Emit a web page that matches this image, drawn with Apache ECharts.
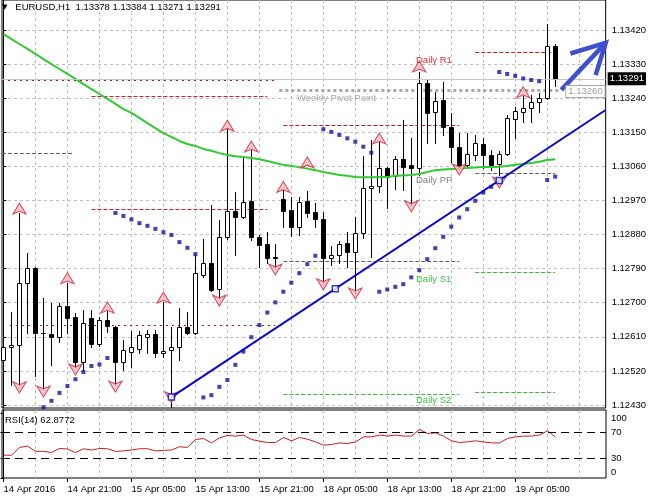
<!DOCTYPE html>
<html><head><meta charset="utf-8">
<script src="https://cdn.jsdelivr.net/npm/echarts@6/dist/echarts.min.js"></script>
<style>html,body{margin:0;padding:0;background:#fff}#c{width:649px;height:500px}</style>
</head><body><div id="c"></div>
<script>
// ---------------- data ----------------
const symbolName = 'EURUSD,H1';
const xTickBars = [0, 8, 16, 24, 32, 40, 48, 56, 64];
const xTickLabels = ['14 Apr 2016', '14 Apr 21:00', '15 Apr 05:00', '15 Apr 13:00', '15 Apr 21:00',
  '18 Apr 05:00', '18 Apr 13:00', '18 Apr 21:00', '19 Apr 05:00'];
const xGridBars = [4, 8, 12, 16, 20, 24, 28, 32, 36, 40, 44, 48, 52, 56, 60, 64, 68, 72];
const priceTicks = [1.12430, 1.12520, 1.12610, 1.12700, 1.12790, 1.12880, 1.12970, 1.13060, 1.13150, 1.13240, 1.13330, 1.13420];
const rsiTicks = [0, 30, 70, 100];
const rsiLevels = [70, 30];

const opens = [1.12549,1.12582,1.12588,1.12751,1.12791,1.12619,1.12617,1.12609,1.12691,1.12662,
1.12544,1.12659,1.12591,1.12654,1.12637,1.12544,1.12571,1.12579,1.12610,1.12617,
1.12566,1.12575,1.12582,1.12637,1.12619,1.12774,1.12806,1.12735,1.12874,1.12943,
1.12926,1.12969,1.12874,1.12855,1.12822,1.12974,1.12945,1.12901,1.12969,1.12940,
1.12920,1.12817,1.12826,1.12857,1.12835,1.12883,1.13002,1.13008,1.13055,1.13035,
1.13079,1.13064,1.13055,1.13279,1.13204,1.13235,1.13165,1.13110,1.13064,1.13090,
1.13119,1.13090,1.13065,1.13092,1.13185,1.13204,1.13215,1.13230,1.13240,1.13378];
const highs = [1.12637,1.12676,1.12936,1.12831,1.12795,1.12712,1.12699,1.12700,1.12751,1.12674,
1.12681,1.12681,1.12663,1.12679,1.12639,1.12602,1.12626,1.12626,1.12628,1.12628,
1.12703,1.12637,1.12685,1.12676,1.12826,1.12868,1.12959,1.12918,1.13158,1.12993,
1.13081,1.13103,1.12879,1.12888,1.12855,1.12998,1.12978,1.12978,1.12996,1.12963,
1.12940,1.12850,1.12864,1.12888,1.12927,1.13087,1.13130,1.13125,1.13059,1.13087,
1.13182,1.13134,1.13310,1.13288,1.13257,1.13284,1.13200,1.13147,1.13149,1.13143,
1.13134,1.13103,1.13101,1.13196,1.13218,1.13246,1.13248,1.13254,1.13436,1.13384];
const lows = [1.12524,1.12483,1.12483,1.12619,1.12507,1.12471,1.12536,1.12597,1.12619,1.12531,
1.12522,1.12584,1.12586,1.12624,1.12483,1.12522,1.12531,1.12566,1.12566,1.12558,
1.12556,1.12426,1.12549,1.12617,1.12617,1.12768,1.12732,1.12712,1.12868,1.12826,
1.12924,1.12866,1.12795,1.12804,1.12791,1.12899,1.12877,1.12879,1.12927,1.12899,
1.12751,1.12800,1.12804,1.12795,1.12725,1.12870,1.12822,1.12993,1.12949,1.12999,
1.12998,1.12958,1.13037,1.13121,1.13121,1.13143,1.13072,1.13055,1.13061,1.13077,
1.13055,1.13050,1.13037,1.13090,1.13134,1.13178,1.13178,1.13204,1.13238,1.13271];
const closes = [1.12582,1.12588,1.12751,1.12791,1.12619,1.12621,1.12609,1.12691,1.12659,1.12544,
1.12646,1.12591,1.12654,1.12639,1.12544,1.12575,1.12582,1.12615,1.12617,1.12566,
1.12573,1.12582,1.12637,1.12619,1.12778,1.12806,1.12734,1.12874,1.12943,1.12927,
1.12965,1.12874,1.12852,1.12817,1.12817,1.12943,1.12901,1.12965,1.12938,1.12920,
1.12817,1.12825,1.12855,1.12835,1.12883,1.13002,1.13008,1.13055,1.13033,1.13079,
1.13059,1.13055,1.13279,1.13202,1.13233,1.13163,1.13110,1.13064,1.13092,1.13121,
1.13090,1.13064,1.13092,1.13187,1.13206,1.13215,1.13231,1.13240,1.13379,1.13291];

const maValues = [1.13409,1.13396,1.13383,1.13370,1.13357,1.13343,1.13330,1.13317,1.13304,1.13291,
1.13277,1.13264,1.13251,1.13238,1.13225,1.13211,1.13201,1.13188,1.13174,1.13161,
1.13148,1.13138,1.13127,1.13119,1.13114,1.13106,1.13101,1.13095,1.13090,1.13087,
1.13085,1.13082,1.13079,1.13074,1.13069,1.13064,1.13061,1.13058,1.13054,1.13050,
1.13045,1.13041,1.13037,1.13035,1.13032,1.13031,1.13031,1.13032,1.13032,1.13035,
1.13036,1.13037,1.13040,1.13045,1.13050,1.13052,1.13053,1.13054,1.13056,1.13057,
1.13058,1.13058,1.13059,1.13061,1.13064,1.13066,1.13069,1.13072,1.13077,1.13079];

const sarValues = [null,null,null,null,null,1.12424,1.12441,1.12462,1.12480,1.12498,
1.12517,1.12533,1.12537,1.12554,1.12937,1.12929,1.12920,1.12910,1.12903,1.12895,
1.12886,1.12879,1.12860,1.12845,1.12828,1.12450,1.12456,1.12478,1.12496,1.12536,
1.12571,1.12609,1.12641,1.12674,1.12701,1.12729,1.12753,1.12778,1.12802,1.12824,
1.13158,1.13151,1.13143,1.13134,1.13125,1.13112,1.13096,1.12729,1.12735,1.12742,
1.12749,1.12767,1.12786,1.12815,1.12844,1.12874,1.12901,1.12925,1.12947,1.12969,
1.12991,1.13006,1.13309,1.13304,1.13299,1.13292,1.13288,1.13285,1.13024,1.13033];

const rsiValues = [35.1,35.0,47.0,49.0,41.2,41.0,39.2,45.4,44.6,39.0,
45.0,43.0,45.4,45.0,41.0,41.7,43.0,45.0,45.0,41.7,
42.5,43.0,48.0,47.0,59.2,60.7,54.0,61.7,65.4,64.5,
66.0,59.2,56.7,54.6,54.6,62.3,57.2,62.3,59.7,55.6,
50.5,51.5,54.0,53.0,55.6,63.3,63.3,66.0,64.5,66.0,
64.5,64.5,74.6,68.5,69.5,64.5,57.2,54.6,55.6,57.2,
55.5,54.0,54.0,60.7,63.3,64.5,64.5,66.0,72.6,62.8772];

const fractalUpBars = [2, 8, 13, 20, 28, 31, 35, 38, 47, 52, 65];
const fractalUpPrices = [1.12963, 1.12779, 1.12702, 1.12728, 1.13182, 1.13127, 1.13020, 1.13085, 1.13148, 1.13338, 1.13270];
const fractalDownBars = [2, 5, 9, 14, 21, 27, 34, 40, 44, 51, 57, 62];
const fractalDownPrices = [1.12462, 1.12451, 1.12509, 1.12464, 1.12436, 1.12691, 1.12773, 1.12734, 1.12710, 1.12940, 1.13037, 1.13003];

// pivot level segments: from bar, to bar, price, kind
const levelFrom  = [-0.2, -0.2, 0.8, 11, 11, 35, 35, 35, 34.5, 59, 59, 59, 59];
const levelTo    = [8.7, 34, 34, 33, 33, 57, 57, 57, 69.5, 69.2, 69, 69, 69];
const levelPrice = [1.13095, 1.13288, 1.12639, 1.13244, 1.12947, 1.13169, 1.12810, 1.12459, 1.13260, 1.13360, 1.13042, 1.12780, 1.12462];
const levelKind  = ['pp', 'wk', 'wk', 'r', 'r', 'r', 'pp', 's', 'wpp', 'r', 'pp', 's', 's'];

const labelTexts  = ['Daily R1', 'Weekly Pivot Point', 'Daily PP', 'Daily S1', 'Daily S2'];
const labelBars   = [51.56, 36.69, 51.56, 51.56, 51.56];
const labelPrices = [1.13360, 1.13260, 1.13042, 1.12780, 1.12462];
const labelKind   = ['r', 'wpp', 'pp', 's', 's'];
const weeklyPivot = 1.13260;

const trendBars = [21, 62];
const trendPrices = [1.12451, 1.13023];

const arrowShaftBars = [69.77, 75.31];
const arrowShaftPrices = [1.13262, 1.13386];
const arrowHeadBars = [70.9, 75.31, 74.06];
const arrowHeadPrices = [1.13358, 1.13386, 1.13301];

// ---------------- layout / style ----------------
const FONT = 'Liberation Sans';
const FS = 9.5;
const X_MIN = -0.1875, X_MAX = 75.3125;
const Y_MAX = 1.134992, Y_MIN = 1.1242208;
const GRIDC = '#c0c0c0';
const levelStyles = {
  r:   {color: '#c0202c', width: 1, dash: [4, 2]},
  pp:  {color: '#606060', width: 1, dash: [4, 2]},
  s:   {color: '#3cb43c', width: 1, dash: [4, 2]},
  wk:  {color: '#8b1a1a', width: 1, dash: [2, 4]},
  wpp: {color: '#a8a8a8', width: 3, dash: [3, 3]}
};
const labelStyles = {
  r:   {color: '#e0303c'},
  wpp: {color: '#a8a8a8'},
  pp:  {color: '#808080'},
  s:   {color: '#44c044'}
};

const lastIdx = closes.length - 1;
const candleData = opens.map((o, i) => [i, o, highs[i], lows[i], closes[i]]);
const slope = (trendPrices[1] - trendPrices[0]) / (trendBars[1] - trendBars[0]);
const trendLine = [[trendBars[0], trendPrices[0]], [X_MAX, trendPrices[0] + slope * (X_MAX - trendBars[0])]];
const trendMarks = [[trendBars[0], trendPrices[0]],
  [(trendBars[0] + trendBars[1]) / 2, (trendPrices[0] + trendPrices[1]) / 2],
  [trendBars[1], trendPrices[1]]];

function renderCandle(params, api) {
  const k = api.value(0), o = api.value(1), h = api.value(2), l = api.value(3), c = api.value(4);
  const pO = api.coord([k, o]), pH = api.coord([k, h]), pL = api.coord([k, l]), pC = api.coord([k, c]);
  const x = Math.floor(pO[0] + 0.01) + 0.5;
  const half = 2;
  const top = Math.round(Math.min(pO[1], pC[1])) + 0.5;
  const bot = Math.round(Math.max(pO[1], pC[1])) + 0.5;
  return {type: 'group', children: [
    {type: 'line', shape: {x1: x, y1: Math.round(pH[1]), x2: x, y2: Math.round(pL[1]) + 1}, style: {stroke: '#000', lineWidth: 1}},
    {type: 'rect', shape: {x: x - half, y: top, width: half * 2, height: bot - top},
      style: {fill: c >= o ? '#fff' : '#000', stroke: '#000', lineWidth: 1}}
  ]};
}
function renderLevel(params, api) {
  const st = levelStyles[levelKind[params.dataIndex]];
  const a = api.coord([api.value(0), api.value(2)]), b = api.coord([api.value(1), api.value(2)]);
  const y = st.width % 2 ? Math.round(a[1] - 0.5) + 0.5 : Math.round(a[1]);
  return {type: 'line', shape: {x1: a[0], y1: y, x2: b[0], y2: y},
    style: {stroke: st.color, lineWidth: st.width, lineDash: st.dash}};
}
function renderLabel(params, api) {
  const i = params.dataIndex;
  if (i < labelTexts.length) {
    const p = api.coord([api.value(0), api.value(1)]);
    return {type: 'text', x: Math.round(p[0]), y: Math.round(p[1]) + 2,
      style: {text: labelTexts[i], fill: labelStyles[labelKind[i]].color, font: FS + 'px "' + FONT + '"',
        align: 'left', verticalAlign: 'top'}};
  }
  const p = api.coord([X_MAX, weeklyPivot]);
  return {type: 'text', x: p[0] - 1, y: Math.round(p[1]) + 0.5,
    style: {text: weeklyPivot.toFixed(5), fill: '#a0a0a0', font: FS + 'px "' + FONT + '"',
      align: 'right', verticalAlign: 'middle', backgroundColor: '#fff', borderColor: '#a8a8a8',
      borderWidth: 1, padding: [1, 2, 0, 2]}};
}

const labelData = labelTexts.map((t, i) => [labelBars[i], labelPrices[i]]).concat([[X_MAX, weeklyPivot]]);

const chart = echarts.init(document.getElementById('c'));
const txt = {fontFamily: FONT, fontSize: FS, color: '#000'};
const fractalStyle = {color: '#f2b8c0', borderColor: '#d0202e', borderWidth: 1};
chart.setOption({
  animation: false,
  backgroundColor: '#fff',
  textStyle: {fontFamily: FONT},
  title: [
    {text: '{t|▼}   ' + symbolName + '  ' + [opens[lastIdx], highs[lastIdx], lows[lastIdx], closes[lastIdx]].map(v => v.toFixed(5)).join(' '),
      left: 2, top: 2, padding: 0,
      textStyle: {fontFamily: FONT, fontSize: FS, fontWeight: 'normal', color: '#000', rich: {t: {fontSize: 7, fontFamily: 'DejaVu Sans'}}}},
    {text: 'RSI(14) ' + rsiValues[lastIdx].toFixed(4), left: 5, top: 415, padding: 0,
      textStyle: {fontFamily: FONT, fontSize: FS, fontWeight: 'normal', color: '#000'}}
  ],
  grid: [
    {left: 2, right: 43, top: 0, height: 408, show: true, borderColor: '#000', borderWidth: 1, containLabel: false},
    {left: 2, right: 43, top: 410, height: 68, show: true, borderColor: '#000', borderWidth: 1, containLabel: false}
  ],
  xAxis: [
    {type: 'value', gridIndex: 0, min: X_MIN, max: X_MAX, axisLine: {show: false},
      axisTick: {show: false, customValues: xGridBars}, axisLabel: {show: false},
      splitLine: {show: true, lineStyle: {color: GRIDC, type: [3, 3], width: 1}}},
    {type: 'value', gridIndex: 1, min: X_MIN, max: X_MAX, position: 'bottom', axisLine: {show: false},
      axisTick: {show: false, customValues: xGridBars}, axisLabel: {show: false},
      splitLine: {show: true, lineStyle: {color: GRIDC, type: [3, 3], width: 1}}},
    {type: 'value', gridIndex: 1, min: X_MIN, max: X_MAX, position: 'bottom', axisLine: {show: false},
      axisTick: {show: true, length: 4, customValues: xTickBars, lineStyle: {color: '#000'}},
      axisLabel: {show: true, customValues: xTickBars, align: 'left', margin: 6, ...txt,
        formatter: v => xTickLabels[xTickBars.indexOf(Math.round(v))]},
      splitLine: {show: false}}
  ],
  yAxis: [
    {type: 'value', gridIndex: 0, position: 'right', min: Y_MIN, max: Y_MAX,
      axisLine: {show: true, lineStyle: {color: '#000'}},
      axisTick: {show: true, length: 3, customValues: priceTicks, lineStyle: {color: '#000'}},
      axisLabel: {show: true, customValues: priceTicks, margin: 6, ...txt, formatter: v => v.toFixed(5)},
      splitLine: {show: true, lineStyle: {color: GRIDC, type: [3, 3], width: 1}}},
    {type: 'value', gridIndex: 1, position: 'right', min: 0, max: 104.6,
      axisLine: {show: true, lineStyle: {color: '#000'}},
      axisTick: {show: true, inside: true, length: 3, customValues: rsiTicks, lineStyle: {color: '#000'}},
      axisLabel: {show: true, customValues: rsiTicks, margin: 5, ...txt,
        formatter: v => v === 100 ? '{a|100}' : (v === 0 ? '{b|0}' : String(v)),
        rich: {a: {...txt, padding: [10, 0, 0, 0]}, b: {...txt, padding: [0, 0, 12, 0]}}},
      splitLine: {show: false}}
  ],
  series: [
    {type: 'custom', name: 'levels', xAxisIndex: 0, yAxisIndex: 0, silent: true, z: 1,
      data: levelFrom.map((f, i) => [f, levelTo[i], levelPrice[i]]), encode: {x: [0, 1], y: 2},
      renderItem: renderLevel},
    {type: 'custom', name: 'candles', xAxisIndex: 0, yAxisIndex: 0, silent: true, z: 3,
      data: candleData, encode: {x: 0, y: [1, 2, 3, 4]}, renderItem: renderCandle},
    {type: 'line', name: 'MA', xAxisIndex: 0, yAxisIndex: 0, silent: true, z: 4, showSymbol: false, symbol: 'none', clip: false,
      data: maValues.map((v, i) => [i, v]), lineStyle: {color: '#34c834', width: 2},
      markLine: {silent: true, symbol: 'none', animation: false, precision: 6,
        lineStyle: {color: '#c8c8c8', type: 'solid', width: 1},
        label: {show: true, position: 'end', distance: 2, formatter: closes[lastIdx].toFixed(5),
          backgroundColor: '#000', color: '#fff', padding: [2, 2, 1, 2], fontFamily: FONT, fontSize: FS},
        data: [{yAxis: closes[lastIdx]}]}},
    {type: 'scatter', name: 'SAR', xAxisIndex: 0, yAxisIndex: 0, silent: true, z: 5, symbol: 'rect', symbolSize: 4,
      data: sarValues.map((v, i) => v == null ? null : [i, v]).filter(d => d), itemStyle: {color: '#1010a8'}},
    {type: 'scatter', name: 'fractalUp', xAxisIndex: 0, yAxisIndex: 0, silent: true, z: 5, symbol: 'arrow', symbolSize: [10, 11],
      data: fractalUpBars.map((b, i) => [b, fractalUpPrices[i]]), itemStyle: fractalStyle},
    {type: 'scatter', name: 'fractalDown', xAxisIndex: 0, yAxisIndex: 0, silent: true, z: 5, symbol: 'arrow', symbolRotate: 180, symbolSize: [10, 11],
      data: fractalDownBars.map((b, i) => [b, fractalDownPrices[i]]), itemStyle: fractalStyle},
    {type: 'line', name: 'trend', xAxisIndex: 0, yAxisIndex: 0, silent: true, z: 6, symbol: 'none',
      data: trendLine, lineStyle: {color: '#0808cc', width: 2}},
    {type: 'scatter', name: 'trendMarks', xAxisIndex: 0, yAxisIndex: 0, silent: true, z: 7, symbol: 'rect', symbolSize: 6,
      data: trendMarks, itemStyle: {color: '#fff', borderColor: '#0808cc', borderWidth: 1.5}},
    {type: 'line', name: 'arrowShaft', xAxisIndex: 0, yAxisIndex: 0, silent: true, z: 8, symbol: 'none', clip: false,
      data: arrowShaftBars.map((b, i) => [b, arrowShaftPrices[i]]), lineStyle: {color: '#3f4fcf', width: 4.5}},
    {type: 'line', name: 'arrowHead', xAxisIndex: 0, yAxisIndex: 0, silent: true, z: 8, symbol: 'none', clip: false,
      data: arrowHeadBars.map((b, i) => [b, arrowHeadPrices[i]]), lineStyle: {color: '#3f4fcf', width: 4.5, join: 'miter'}},
    {type: 'custom', name: 'labels', xAxisIndex: 0, yAxisIndex: 0, silent: true, z: 9,
      data: labelData, encode: {x: 0, y: 1}, renderItem: renderLabel},
    {type: 'line', name: 'RSI', xAxisIndex: 1, yAxisIndex: 1, silent: true, z: 4, symbol: 'none',
      data: rsiValues.map((v, i) => [i, v]), lineStyle: {color: '#c41e24', width: 1},
      markLine: {silent: true, symbol: 'none', animation: false, label: {show: false},
        lineStyle: {color: '#000', type: [8, 5], width: 1},
        data: rsiLevels.map(v => ({yAxis: v}))}}
  ]
});
</script>
</body></html>
